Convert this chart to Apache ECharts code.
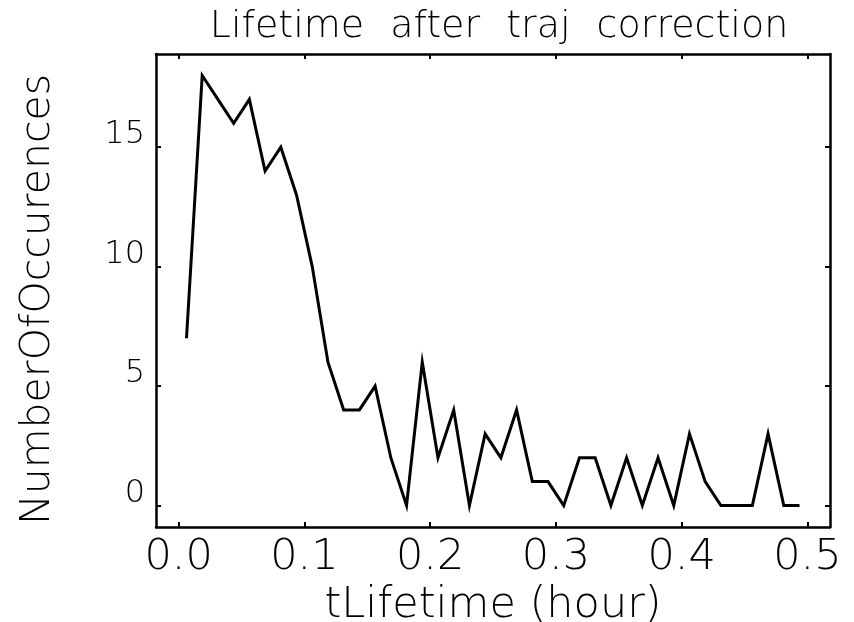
<!DOCTYPE html>
<html>
<head>
<meta charset="utf-8">
<title>Lifetime after traj correction</title>
<script src="https://cdn.jsdelivr.net/npm/echarts@6/dist/echarts.min.js"></script>
<style>
  html, body { margin: 0; padding: 0; background: #ffffff; }
  #chart { width: 854px; height: 622px; }
</style>
</head>
<body>
<div id="chart"></div>
<script>
// Histogram of track lifetimes (bin centres in hours) after trajectory correction
const binCenters = [
  0.00625, 0.01875, 0.03125, 0.04375, 0.05625, 0.06875, 0.08125, 0.09375,
  0.10625, 0.11875, 0.13125, 0.14375, 0.15625, 0.16875, 0.18125, 0.19375,
  0.20625, 0.21875, 0.23125, 0.24375, 0.25625, 0.26875, 0.28125, 0.29375,
  0.30625, 0.31875, 0.33125, 0.34375, 0.35625, 0.36875, 0.38125, 0.39375,
  0.40625, 0.41875, 0.43125, 0.44375, 0.45625, 0.46875, 0.48125, 0.49375
];
const occurrences = [
  7, 18, 17, 16, 17, 14, 15, 13,
  10, 6, 4, 4, 5, 2, 0, 6,
  2, 4, 0, 3, 2, 4, 1, 1,
  0, 2, 2, 0, 2, 0, 2, 0,
  3, 1, 0, 0, 0, 3, 0, 0
];
const xTickValues = [0.0, 0.1, 0.2, 0.3, 0.4, 0.5];
const yTickValues = [0, 5, 10, 15];
const titleWords = ['Lifetime', 'after', 'traj', 'correction'];

const FONT = "'DejaVu Sans', 'Liberation Sans', sans-serif";
const INK = '#000000';

const chart = echarts.init(document.getElementById('chart'), null, { renderer: 'canvas' });

const frameLine = {
  show: true,
  onZero: false,
  lineStyle: { color: INK, width: 2.5 }
};
const tickStyle = (values) => ({
  show: true, inside: true, length: 5,
  lineStyle: { color: INK, width: 2 },
  customValues: values
});

// words of the title get a little side padding so the spacing opens up
const titleText = titleWords.map(w => '{w|' + w + '}').join(' ');

chart.setOption({
  animation: false,
  backgroundColor: '#ffffff',
  title: {
    text: titleText,
    left: 494,
    textAlign: 'center',
    top: 3,
    textStyle: {
      fontFamily: FONT, fontWeight: 200, fontSize: 38, color: INK,
      rich: {
        w: { fontFamily: FONT, fontWeight: 200, fontSize: 38, color: INK, padding: [0, 7, 0, 7] }
      }
    }
  },
  grid: {
    left: 156, right: 24, top: 54, bottom: 95,
    containLabel: false,
    outerBoundsMode: 'none'
  },
  xAxis: [
    {
      type: 'value',
      min: -0.018,
      max: 0.518,
      position: 'bottom',
      name: 'tLifetime (hour)',
      nameLocation: 'middle',
      nameGap: 55,
      nameTextStyle: { fontFamily: FONT, fontWeight: 200, fontSize: 43, color: INK },
      axisLine: frameLine,
      axisTick: tickStyle(xTickValues),
      axisLabel: {
        show: true, margin: 9, fontFamily: FONT, fontWeight: 200, fontSize: 43, color: INK,
        customValues: xTickValues,
        formatter: v => v.toFixed(1)
      },
      splitLine: { show: false }
    },
    {
      type: 'value',
      min: -0.018,
      max: 0.518,
      position: 'top',
      axisLine: frameLine,
      axisTick: tickStyle(xTickValues),
      axisLabel: { show: false },
      splitLine: { show: false }
    }
  ],
  yAxis: [
    {
      type: 'value',
      min: -0.9,
      max: 18.9,
      position: 'left',
      name: 'NumberOfOccurences',
      nameLocation: 'middle',
      nameGap: 97,
      nameRotate: 90,
      nameTextStyle: {
        fontFamily: FONT, fontWeight: 200, fontSize: 41, color: INK,
        padding: [0, 18, 0, 0]
      },
      axisLine: frameLine,
      axisTick: tickStyle(yTickValues),
      axisLabel: {
        show: true, margin: 11, fontFamily: FONT, fontWeight: 200, fontSize: 32, color: INK,
        verticalAlign: 'bottom', lineHeight: 24,
        customValues: yTickValues
      },
      splitLine: { show: false }
    },
    {
      type: 'value',
      min: -0.9,
      max: 18.9,
      position: 'right',
      axisLine: frameLine,
      axisTick: tickStyle(yTickValues),
      axisLabel: { show: false },
      splitLine: { show: false }
    }
  ],
  series: [
    {
      type: 'line',
      xAxisIndex: 0,
      yAxisIndex: 0,
      data: binCenters.map((x, i) => [x, occurrences[i]]),
      showSymbol: false,
      symbol: 'none',
      lineStyle: { color: INK, width: 3, join: 'miter' },
      z: 3
    }
  ]
});
</script>
</body>
</html>
